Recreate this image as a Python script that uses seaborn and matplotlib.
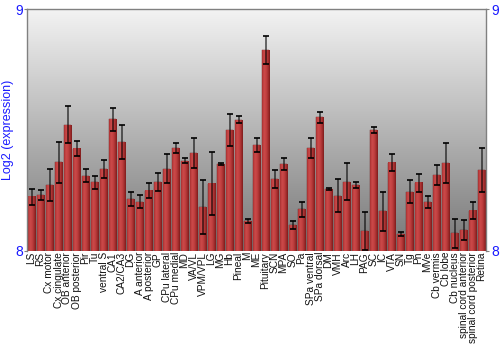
import numpy as np
import pandas as pd
import matplotlib
matplotlib.use("Agg")
import matplotlib.pyplot as plt
import seaborn as sns
from matplotlib.colors import LinearSegmentedColormap

regions = ["LS", "RS", "Cx motor", "Cx cingulate", "OB anterior", "OB posterior",
           "Pir", "Tu", "ventral S", "CA1", "CA2/CA3", "DG", "A anterior",
           "A posterior", "GP", "CPu lateral", "CPu medial", "MD", "VA/VL",
           "VPM/VPL", "LG", "MG", "Hb", "Pineal", "M", "ME", "Pituitary", "SCN",
           "MPA", "SO", "Pa", "SPa ventral", "SPa dorsal", "DM", "VMH", "Arc",
           "LH", "PAG", "SC", "IC", "VTA", "SN", "Tg", "Pn", "MVe", "Cb vermis",
           "Cb lobe", "Cb nucleus", "spinal cord anterior",
           "spinal cord posterior", "Retina"]
expression = [8.224, 8.231, 8.271, 8.366, 8.522, 8.423, 8.311, 8.283, 8.338,
              8.544, 8.449, 8.214, 8.203, 8.249, 8.285, 8.340, 8.427, 8.372,
              8.403, 8.181, 8.278, 8.360, 8.500, 8.543, 8.122, 8.438, 8.831,
              8.296, 8.360, 8.106, 8.171, 8.425, 8.552, 8.257, 8.228, 8.285,
              8.271, 8.081, 8.500, 8.164, 8.365, 8.068, 8.244, 8.282, 8.202,
              8.314, 8.362, 8.072, 8.086, 8.166, 8.334]
errors = [0.033, 0.021, 0.066, 0.086, 0.076, 0.031, 0.028, 0.026, 0.039,
          0.048, 0.071, 0.030, 0.027, 0.032, 0.037, 0.061, 0.021, 0.010,
          0.062, 0.113, 0.130, 0.004, 0.068, 0.014, 0.008, 0.031, 0.059,
          0.038, 0.026, 0.017, 0.030, 0.041, 0.024, 0.004, 0.068, 0.077,
          0.013, 0.079, 0.012, 0.081, 0.034, 0.008, 0.048, 0.037, 0.026,
          0.041, 0.083, 0.060, 0.041, 0.035, 0.093]

df = pd.DataFrame({"region": regions, "expression": expression, "err": errors})

sns.set_style("white")
plt.rcParams["font.family"] = ["Liberation Sans", "DejaVu Sans"]

fig = plt.figure(figsize=(5, 3.5), dpi=100)
ax = fig.add_axes([0.054, 0.284, 0.918, 0.689])

ax = sns.barplot(data=df, x="region", y="expression", color="#b83838",
                 errorbar=None, width=0.86, ax=ax, zorder=2)
n = len(regions)
ymin, ymax = 8, 9

# background gradient (light at top, darker at bottom)
bg = LinearSegmentedColormap.from_list("bg", ["#f3f3f3", "#777777"])
grad = np.linspace(0, 1, 256).reshape(-1, 1)
ax.imshow(grad, cmap=bg, aspect="auto", extent=(-0.5, n - 0.5, ymin, ymax),
          zorder=0, origin="upper")

# bar gradient overlay within visible range
barcm = LinearSegmentedColormap.from_list(
    "bar", ["#a83030", "#cc4a4a", "#c44242", "#a83030", "#7e1c1c"])
hgrad = np.linspace(0, 1, 64).reshape(1, -1)
for p in list(ax.patches):
    x0 = p.get_x()
    w = p.get_width()
    top = p.get_y() + p.get_height()
    ax.imshow(hgrad, cmap=barcm, aspect="auto",
              extent=(x0, x0 + w, ymin, top), zorder=2.5)
    p.set_edgecolor("#6a1a1a")
    p.set_linewidth(0.3)

# error bars: semi-transparent stems, black caps
ax.errorbar(x=np.arange(n), y=df["expression"], yerr=df["err"],
            fmt="none", ecolor="black", elinewidth=1.3, capsize=0,
            alpha=0.6, zorder=3)
ax.errorbar(x=np.arange(n), y=df["expression"], yerr=df["err"],
            fmt="none", ecolor="black", elinewidth=0, capsize=2.2,
            capthick=1.2, zorder=3.1)

ax.set_xlim(-0.5, n - 0.5)
ax.set_ylim(ymin, ymax)
ax.set_aspect("auto")

ax.set_xlabel("")
ax.set_ylabel("Log2 (expression)", color="#1a1aff", fontsize=9, labelpad=1)
ax.set_yticks([8, 9])
ax.set_yticklabels(["8", "9"], color="#1a1aff", fontsize=10)
ax.set_xticks(np.arange(n))
ax.set_xticklabels(regions, rotation=90, fontsize=7.3, color="#111111")
ax.tick_params(axis="x", length=0, pad=1)
ax.tick_params(axis="y", length=2, color="#808080", pad=1)

for s in ["left", "right", "top"]:
    ax.spines[s].set_color("#808080")
    ax.spines[s].set_linewidth(1)
ax.spines["bottom"].set_visible(False)

ax2 = ax.twinx()
ax2.set_ylim(ymin, ymax)
ax2.set_yticks([8, 9])
ax2.set_yticklabels(["8", "9"], color="#1a1aff", fontsize=10)
ax2.tick_params(axis="y", length=2, color="#808080", pad=2)
for s in ["left", "right", "top", "bottom"]:
    ax2.spines[s].set_visible(False)

fig.savefig("out.png", dpi=100)
